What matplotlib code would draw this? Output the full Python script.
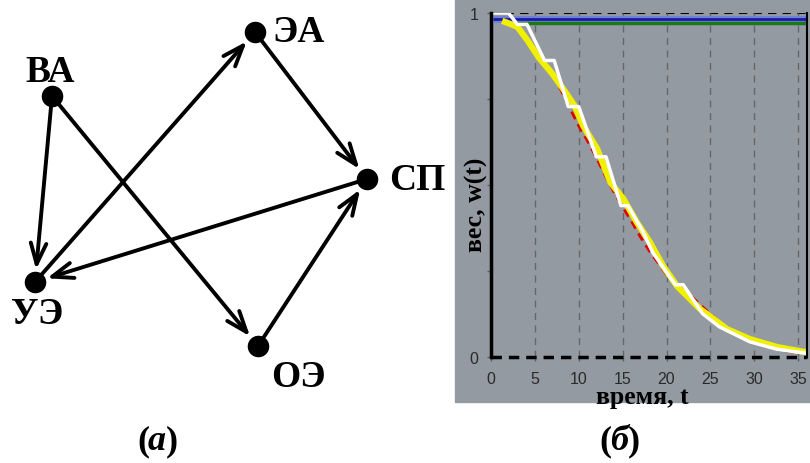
import numpy as np
import matplotlib
matplotlib.use('Agg')
import matplotlib.pyplot as plt
from matplotlib.patches import FancyArrowPatch, Rectangle

# граф (а): узлы и связи
node_names = ["ВА", "ЭА", "СП", "УЭ", "ОЭ"]
node_x = [52, 255, 367, 35, 258]
node_y = [97, 33, 180, 283, 347]
label_x = [50, 299, 417, 37, 298]
label_y = [72, 32, 181, 315, 378]
edges = [("ВА", "УЭ"), ("ВА", "ОЭ"), ("УЭ", "ЭА"),
         ("ЭА", "СП"), ("СП", "УЭ"), ("ОЭ", "СП")]

# график (б): вес w(t)
t_blue = [0.2, 36.0]
w_blue = [0.984, 0.984]
t_green = [1.8, 36.0]
w_green = [0.971, 0.971]

t_red = [2, 3, 4, 5, 6, 7, 8, 9, 10, 11, 12, 13, 14, 15, 16, 17, 18, 19,
         20, 21, 22, 23, 24, 25, 26, 27, 28, 29, 30, 31, 32, 33, 34, 35, 36]
w_red = [0.975, 0.955, 0.93, 0.898, 0.86, 0.82, 0.775, 0.722, 0.672, 0.628,
         0.58, 0.528, 0.48, 0.436, 0.395, 0.35, 0.31, 0.275, 0.24, 0.215,
         0.195, 0.172, 0.148, 0.125, 0.102, 0.081, 0.066, 0.053, 0.042,
         0.033, 0.026, 0.02, 0.016, 0.013, 0.012]

t_yel = [1.6, 3.0, 4.2, 5.4, 7.0, 8.4, 9.6, 10.5, 12.1, 13.6, 15.1, 16.6,
         18.1, 19.6, 21.2, 23.8, 26.9, 29.5, 32.6, 35.6, 36.0]
w_yel = [0.974, 0.96, 0.919, 0.872, 0.823, 0.773, 0.727, 0.672, 0.605,
         0.508, 0.459, 0.392, 0.334, 0.265, 0.206, 0.14, 0.081, 0.052,
         0.029, 0.015, 0.014]

t_wht = [0.3, 2.0, 3.0, 4.1, 6.1, 7.2, 8.8, 10.0, 12.0, 13.1, 14.8, 15.6,
         17.3, 18.4, 21.0, 21.9, 24.1, 26.0, 29.5, 32.5, 35.0, 36.0]
w_wht = [1.0, 1.0, 0.967, 0.967, 0.862, 0.862, 0.728, 0.728, 0.582, 0.582,
         0.44, 0.44, 0.365, 0.305, 0.21, 0.21, 0.126, 0.088, 0.044, 0.023,
         0.014, 0.011]

xticks = [0, 5, 10, 15, 20, 25, 30, 35]
yticks = [0, 0.25, 0.5, 0.75, 1]
ytick_labels = ["0", "", "", "", "1"]

captions = ["а", "б"]
caption_x = [157, 619]

gray = '#939aa1'
serif = 'Liberation Serif'
sans = 'Liberation Sans'

fig = plt.figure(figsize=(8.1, 4.64), dpi=100)

# фоновая ось в пикселях
bg = fig.add_axes([0, 0, 1, 1])
bg.set_xlim(0, 810)
bg.set_ylim(464, 0)
bg.axis('off')
bg.add_patch(Rectangle((455, 0), 355, 403, color=gray, zorder=0))

pos = {n: (x, y) for n, x, y in zip(node_names, node_x, node_y)}
for a, b in edges:
    arr = FancyArrowPatch(pos[a], pos[b],
                          arrowstyle='->,head_length=0.75,head_width=0.28',
                          mutation_scale=20, lw=2.8, color='black',
                          shrinkA=0, shrinkB=9, zorder=2)
    bg.add_patch(arr)
bg.plot(node_x, node_y, 'o', color='black', ms=14.5, zorder=3)
for n, x, y in zip(node_names, label_x, label_y):
    bg.text(x, y, n, fontsize=27, fontweight='bold', family=serif,
            ha='center', va='center')

# подписи (а), (б): скобки прямые, буква курсивом
for c, x in zip(captions, caption_x):
    bg.text(x, 442, c, fontsize=26, fontweight='bold', style='italic',
            family=serif, ha='center', va='center')
    bg.text(x - 8, 442, "(", fontsize=26, fontweight='bold',
            family=serif, ha='right', va='center')
    bg.text(x + 9, 442, ")", fontsize=26, fontweight='bold',
            family=serif, ha='left', va='center')

# график (б)
ax = fig.add_axes([491 / 810, 106 / 464, 316 / 810, 344 / 464])
ax.set_facecolor(gray)
ax.set_xlim(0, 36)
ax.set_ylim(0, 1)

ax.grid(axis='x', linestyle=(0, (5, 4)), color='#62676d', lw=1)
ax.axhline(1, color='black', lw=1.5, ls=(0, (4, 3)), zorder=1)
ax.axhline(0, color='black', lw=2.5, ls=(0, (3, 2)), zorder=6, clip_on=False)

ax.plot(t_blue, w_blue, color='#7080d8', lw=5, solid_capstyle='butt')
ax.plot(t_blue, w_blue, color='#1c1ca0', lw=2, solid_capstyle='butt')
ax.plot(t_green, w_green, color='#1a7a1a', lw=2.5, solid_capstyle='butt')
ax.plot(t_red, w_red, color='#e00000', lw=2, ls=(0, (3, 2)))
ax.plot(t_yel, w_yel, color='#f0f000', lw=4.5)
ax.plot(t_wht, w_wht, color='white', lw=2.5)

for s in ['top', 'bottom']:
    ax.spines[s].set_visible(False)
ax.spines['left'].set_linewidth(2.5)
ax.spines['right'].set_linewidth(1.5)

ax.set_xticks(xticks)
ax.set_yticks(yticks)
ax.set_yticklabels(ytick_labels)
ax.tick_params(colors='#5a5f65', length=3, width=1, labelcolor='#2a2a2a',
               labelsize=11.5, pad=6)
ax.tick_params(axis='x', pad=7)
for lab in ax.get_xticklabels() + ax.get_yticklabels():
    lab.set_family(sans)

ax.set_xlabel("время, t", fontsize=18.5, fontweight='bold', family=serif)
ax.set_ylabel("вес, w(t)", fontsize=18.5, fontweight='bold', family=serif)
ax.xaxis.set_label_coords(0.478, -0.082)
ax.yaxis.set_label_coords(-0.01, 0.445)

fig.savefig('out.png', dpi=100)
